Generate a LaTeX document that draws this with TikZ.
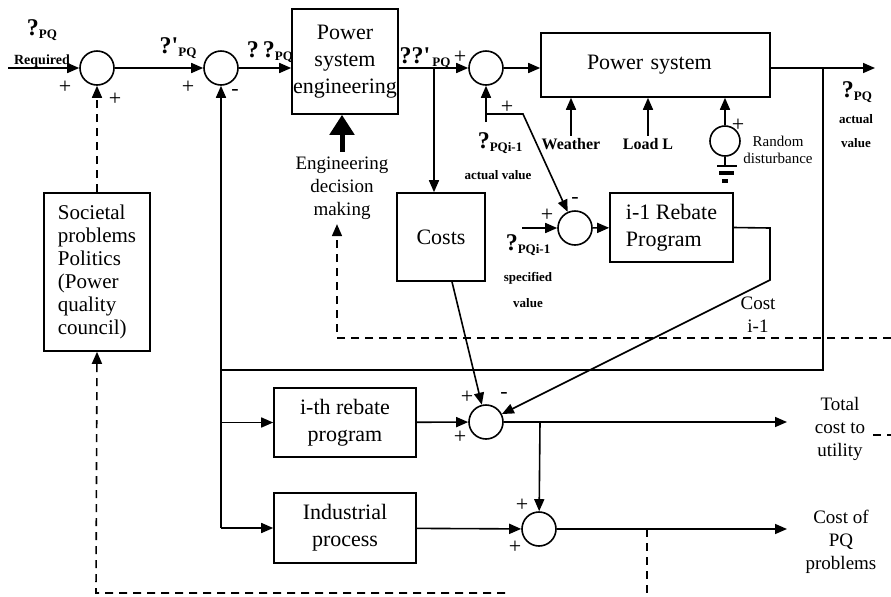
\documentclass[tikz,border=0pt]{standalone}
\usepackage{fontspec}
\setmainfont{Liberation Serif}
\usetikzlibrary{arrows.meta}

\newcommand{\sigq}[2]{{\fontsize{12}{12}\selectfont\bfseries #1}{\fontsize{6.5}{7}\selectfont\bfseries\raisebox{-0.5ex}{#2}}}

\begin{document}
\begin{tikzpicture}[x=0.5pt, y=-0.5pt, >={Triangle[length=6pt,width=5pt]}, line width=0.8pt,
        block/.style={draw, inner sep=0pt, align=center, font=\fontsize{11}{13.5}\selectfont},
        sumj/.style={draw, circle, minimum size=17pt, inner sep=0pt},
        sgn/.style={inner sep=0pt, font=\fontsize{11}{11}\selectfont},
        txt/.style={inner sep=1pt, align=center, font=\fontsize{9.5}{11.5}\selectfont},
        small/.style={inner sep=1pt, align=center, font=\fontsize{6.5}{12}\selectfont\bfseries},
        fb/.style={dash pattern=on 4pt off 3pt}]
        \useasboundingbox (0,0) rectangle (891,596);

        % Reference chain
        \coordinate (in) at (8,68);
        \node[sumj] (s1) at (97,68) {};
        \node[sumj] (s2) at (221,68) {};
        \node[block, minimum width=53pt, minimum height=52.5pt] (pse) at (345,61.5) {Power\\system\\engineering};
        \node[sumj] (s3) at (486,68) {};
        \node[block, align=left, text width=68.5pt, minimum width=114.5pt, minimum height=32pt] (psys) at (655.5,65) {Power system};
        \coordinate (out) at (875,68);
        \coordinate (tap) at (823,68);

        \node[inner sep=0pt] (qreq) at (42,30) {\sigq{?}{PQ}};
        \node[inner sep=0pt, font=\fontsize{7}{7}\selectfont\bfseries] (req) at (42,61) {Required};
        \node[inner sep=0pt] (q1) at (178,48) {\sigq{?\textquotesingle}{PQ}};
        \node[inner sep=0pt] (q2) at (270,52) {\sigq{?\,?}{PQ}};
        \node[inner sep=0pt] (q3) at (425,58) {\sigq{??\textquotesingle}{\,PQ}};
        \node[sgn] at (65,87) {+};
        \node[sgn] at (115,99) {+};
        \node[sgn] at (188,87) {+};
        \node[sgn] at (235,92) {-};
        \node[sgn] at (460,57) {+};

        \draw[->] (in) -- (s1);
        \draw[->] (s1) -- (s2);
        \draw[->] (s2) -- (s2 -| pse.west);
        \draw[->] (s3 -| pse.east) -- (s3);
        \draw[->] (s3) -- (s3 -| psys.west);
        \draw[->] (s3 -| psys.east) -- (out);

        % Engineering decision
        \node[txt, inner sep=2pt] (eng) at (342,188) {Engineering\\decision\\making};
        \draw[-{Triangle[length=10pt,width=12pt]}, line width=2.5pt] (eng.north) -- (eng.north |- pse.south);
        \coordinate (edr) at (891,338);
        \coordinate (edl) at (337,338);
        \draw[fb, ->] (edr) -- (edl) -- (edl |- eng.south);

        % Costs
        \coordinate (br) at (434,68);
        \node[block, minimum width=44pt, minimum height=44pt] (costs) at (441,237) {Costs};
        \draw[->] (br) -- (br |- costs.north);

        % Previous rebate value
        \coordinate (av) at (486,122);
        \coordinate (avb) at (486,114);
        \coordinate (avr) at (523,114);
        \node[sumj] (s4) at (575,228) {};
        \node[block, align=left, minimum width=61.5pt, minimum height=34.5pt] (reb1) at (671.5,227.5) {i-1 Rebate\\Program};
        \coordinate (spin) at (522,228);
        \draw[->] (av) -- (s3);
        \draw[->] (avb) -- (avr) -- (s4);
        \draw[->] (spin) -- (s4);
        \draw[->] (s4) -- (reb1);
        \node[sgn] at (507,107) {+};
        \node[sgn] at (547,215) {+};
        \node[sgn] at (575,200) {-};
        \node[inner sep=0pt] (avq) at (500,143) {\sigq{?}{PQi-1}};
        \node[small] (avt) at (498,175) {actual value};
        \node[inner sep=0pt] (spq) at (528,245) {\sigq{?}{PQi-1}};
        \node[small, font=\fontsize{6.5}{13}\selectfont\bfseries] (spt) at (528,290) {specified\\value};

        % Disturbances
        \node[inner sep=1pt, font=\fontsize{8}{8}\selectfont\bfseries] (wea) at (571,144) {Weather};
        \node[inner sep=1pt, font=\fontsize{8}{8}\selectfont\bfseries] (load) at (648,144) {Load L};
        \draw[->] (wea.north) -- (wea.north |- psys.south);
        \draw[->] (load.north) -- (load.north |- psys.south);
        \node[draw, circle, minimum size=15pt, inner sep=0pt] (dist) at (725,141) {};
        \draw[->] (dist) -- (dist |- psys.south);
        \node[sgn] at (738,125) {+};
        \coordinate (gnd) at (725,166);
        \draw (dist.south) -- (gnd);
        \draw (717,166) -- (737,166);
        \draw[line width=1.6pt] (719,173) -- (734,173);
        \draw[line width=1.6pt] (722,181) -- (728,181);
        \node[inner sep=0pt, align=center, font=\fontsize{7.5}{8.5}\selectfont] (dlbl) at (778,150) {Random\\disturbance};

        % Output
        \node[inner sep=0pt] (outq) at (857,92) {\sigq{?}{PQ}};
        \node[small] (outt) at (856,131) {actual\\value};

        % Feedback and cost branches
        \coordinate (fbr) at (823,370);
        \coordinate (fbl) at (221,370);
        \coordinate (fbb) at (221,528);
        \draw[->] (tap) -- (fbr) -- (fbl) -- (s2);
        \draw (fbl) -- (fbb);
        \node[block, minimum width=71pt, minimum height=34.5pt] (rebi) at (345,422.5) {i-th rebate\\program};
        \node[block, minimum width=71pt, minimum height=35pt] (ind) at (345,528) {Industrial\\process};
        \draw[->] (fbl |- rebi) -- (rebi);
        \draw[->] (fbb) -- (ind);

        \node[sumj] (s5) at (486,422) {};
        \node[sumj] (s6) at (539,529) {};
        \coordinate (c1a) at (770,228);
        \coordinate (c1b) at (770,280);
        \draw[->] (reb1.east) -- (c1a) -- (c1b) -- (s5);
        \node[txt] (c1t) at (758,315) {Cost\\i-1};
        \draw[->] ([xshift=5.5pt]costs.south) -- (s5);
        \draw[->] (rebi) -- (s5);
        \node[sgn] at (467,397) {+};
        \node[sgn] at (504,395) {-};
        \node[sgn] at (460,437) {+};

        \coordinate (tot) at (787,422);
        \coordinate (br2) at (540,422);
        \draw[->] (s5) -- (tot);
        \draw[->] (br2) -- (s6);
        \draw[->] (ind) -- (s6);
        \node[sgn] at (522,505) {+};
        \node[sgn] at (515,547) {+};
        \coordinate (pqc) at (787,529);
        \draw[->] (s6) -- (pqc);
        \node[txt] (tott) at (840,429) {Total\\cost to\\utility};
        \node[txt] (pqt) at (841,542) {Cost of\\PQ\\problems};

        % Societal loop
        \node[block, align=left, font=\fontsize{10.5}{11.5}\selectfont, minimum width=53pt, minimum height=79pt] (soc) at (97,272) {Societal\\problems\\Politics\\(Power\\quality\\council)};
        \draw[fb, ->] (soc.north) -- (s1.south);
        \coordinate (bl) at (96,593);
        \coordinate (bb) at (505,593);
        \draw[fb, ->] (bb) -- (bl) -- (soc.south);
        \coordinate (pqd) at (647,529);
        \coordinate (pqdb) at (647,596);
        \draw[fb] (pqd) -- (pqdb);
        \coordinate (tcd) at (873,435);
        \coordinate (tce) at (891,435);
        \draw[fb] (tcd) -- (tce);
    \end{tikzpicture}
\end{document}
